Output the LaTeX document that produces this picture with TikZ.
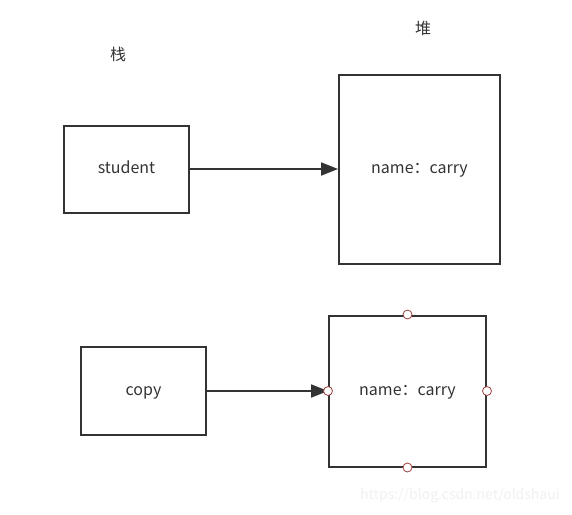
\documentclass[tikz,border=0pt]{standalone}
\usepackage{fontspec}
\setmainfont{Noto Sans CJK SC}
\usepackage{tikz}
\usetikzlibrary{arrows.meta}
\definecolor{linec}{HTML}{333333}
\definecolor{textc}{HTML}{333333}
\definecolor{pinc}{HTML}{A04040}
\definecolor{markc}{HTML}{F0F0F0}

\begin{document}
\begin{tikzpicture}[x=1pt, y=-1pt,
  box/.style={draw=linec, line width=2pt, inner sep=0pt,
    font=\fontsize{16}{19}\selectfont, text=textc,
    text height=0.95em, text depth=0pt},
  lbl/.style={font=\fontsize{16}{19}\selectfont, text=textc},
  pin/.style={circle, draw=pinc, fill=white, line width=0.8pt,
    minimum size=9pt, inner sep=0pt},
  arr/.style={-{Triangle[length=17pt, width=13pt]}, draw=linec, line width=2pt}
]
  \useasboundingbox (0,0) rectangle (572,514);

  \node[lbl] (stack) at (118,54) {栈};
  \node[lbl] (heap) at (423,28) {堆};

  \node[box, minimum width=125pt, minimum height=87pt] (student) at (126.5,169) {student};
  \node[box, minimum width=161pt, minimum height=189pt] (obj) at (419.5,169) {name：carry};

  \node[box, minimum width=125pt, minimum height=88pt] (copy) at (143.5,391) {copy};
  \node[box, minimum width=157pt, minimum height=151pt] (clone) at (407.5,391) {name：carry};

  \draw[arr] (student) -- (obj);
  \draw[arr] (copy) -- (clone);

  % handles on the selected box
  \node[pin] (pinN) at (clone.north) {};
  \node[pin] (pinS) at (clone.south) {};
  \node[pin] (pinW) at (clone.west) {};
  \node[pin] (pinE) at (clone.east) {};

  \node[font=\fontsize{14}{17}\selectfont, text=markc] (mark) at (460,496) {https://blog.csdn.net/oldshaui};
\end{tikzpicture}
\end{document}
